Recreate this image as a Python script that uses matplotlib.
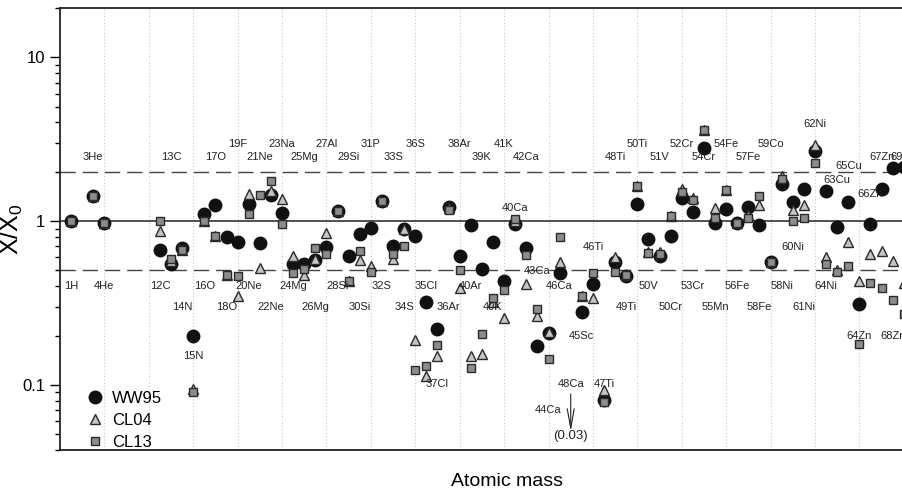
#!/usr/bin/env python3

import numpy as np
import matplotlib
matplotlib.use("Agg")
import matplotlib.pyplot as plt
from matplotlib.ticker import LogLocator, NullFormatter, FixedFormatter


# ------------------------------------------------------------
# DATA  ("" = empty slot on the axis)
# ------------------------------------------------------------

nan = np.nan

ISOTOPES = [
    "1H", "", "3He", "4He", "", "", "", "",
    "12C", "13C", "14N", "15N", "16O", "17O", "18O", "19F",
    "20Ne", "21Ne", "22Ne", "23Na", "24Mg", "25Mg", "26Mg", "27Al",
    "28Si", "29Si", "30Si", "31P", "32S", "33S", "34S", "36S",
    "35Cl", "37Cl", "36Ar", "38Ar", "40Ar", "39K", "40K", "41K",
    "40Ca", "42Ca", "43Ca", "44Ca", "46Ca", "48Ca", "45Sc", "46Ti",
    "47Ti", "48Ti", "49Ti", "50Ti", "50V", "51V", "50Cr", "52Cr",
    "53Cr", "54Cr", "55Mn", "54Fe", "56Fe", "57Fe", "58Fe", "59Co",
    "58Ni", "60Ni", "61Ni", "62Ni", "64Ni", "63Cu", "65Cu", "64Zn",
    "66Zn", "67Zn", "68Zn", "69Ga",
]

WW95 = [
    1.00, nan, 1.42, 0.98, nan, nan, nan, nan,
    0.67, 0.55, 0.68, 0.20, 1.10, 1.26, 0.80, 0.74,
    1.27, 0.73, 1.44, 1.12, 0.55, 0.55, 0.58, 0.69,
    1.16, 0.61, 0.83, 0.91, 1.32, 0.70, 0.89, 0.81,
    0.32, 0.22, 1.22, 0.61, 0.95, 0.51, 0.74, 0.43,
    0.96, 0.68, 0.172, 0.207, 0.48, 0.03, 0.28, 0.41,
    0.081, 0.56, 0.46, 1.27, 0.78, 0.61, 0.81, 1.38,
    1.14, 2.81, 0.98, 1.18, 0.98, 1.22, 0.94, 0.56,
    1.68, 1.30, 1.58, 2.68, 1.53, 0.92, 1.30, 0.31,
    0.96, 1.58, 2.11, 2.13,
]

CL04 = [
    1.00, nan, 1.42, 0.98, nan, nan, nan, nan,
    0.87, 0.57, 0.67, 0.094, 1.00, 0.81, 0.47, 0.35,
    1.46, 0.52, 1.53, 1.36, 0.61, 0.47, 0.59, 0.84,
    1.16, 0.43, 0.58, 0.53, 1.32, 0.59, 0.89, 0.188,
    0.114, 0.149, 1.20, 0.39, 0.151, 0.154, 0.32, 0.255,
    1.00, 0.41, 0.264, 0.21, 0.56, 0.03, 0.35, 0.34,
    0.093, 0.60, 0.47, 1.64, 0.65, 0.65, 1.07, 1.58,
    1.38, 3.62, 1.21, 1.55, 0.98, 1.09, 1.26, 0.56,
    1.89, 1.17, 1.26, 2.90, 0.60, 0.50, 0.75, 0.43,
    0.63, 0.66, 0.57, 0.42,
]

CL13 = [
    1.00, nan, 1.42, 0.98, nan, nan, nan, nan,
    1.00, 0.59, 0.67, 0.091, 1.00, 0.81, 0.47, 0.46,
    1.11, 1.44, 1.75, 0.96, 0.48, 0.51, 0.68, 0.63,
    1.16, 0.43, 0.66, 0.49, 1.32, 0.63, 0.70, 0.123,
    0.13, 0.175, 1.17, 0.50, 0.127, 0.204, 0.34, 0.38,
    1.03, 0.62, 0.29, 0.144, 0.80, 0.03, 0.35, 0.48,
    0.079, 0.49, 0.47, 1.64, 0.64, 0.63, 1.07, 1.51,
    1.35, 3.62, 1.04, 1.55, 0.98, 1.05, 1.42, 0.56,
    1.80, 1.00, 1.05, 2.26, 0.55, 0.49, 0.53, 0.178,
    0.42, 0.39, 0.33, 0.27,
]

# label rows (y value where the isotope name is written)
LABEL_ROWS = {
    2.94: ["19F", "23Na", "27Al", "31P", "36S", "38Ar", "41K", "50Ti",
           "52Cr", "54Fe", "59Co"],
    2.46: ["3He", "13C", "17O", "21Ne", "25Mg", "29Si", "33S", "39K",
           "42Ca", "48Ti", "51V", "54Cr", "57Fe", "67Zn", "69Ga"],
    0.40: ["1H", "4He", "12C", "16O", "20Ne", "24Mg", "28Si", "32S",
           "35Cl", "40Ar", "46Ca", "50V", "53Cr", "56Fe", "58Ni", "64Ni"],
    0.297: ["14N", "18O", "22Ne", "26Mg", "30Si", "34S", "36Ar", "40K",
            "49Ti", "50Cr", "55Mn", "58Fe", "61Ni"],
}
LABEL_SINGLE = {
    "62Ni": 3.94, "65Cu": 2.16, "63Cu": 1.78, "66Zn": 1.47, "40Ca": 1.20,
    "43Ca": 0.495, "46Ti": 0.695, "60Ni": 0.695, "15N": 0.150,
    "45Sc": 0.20, "64Zn": 0.20, "68Zn": 0.20, "37Cl": 0.101,
    "48Ca": 0.101, "47Ti": 0.101, "44Ca": 0.070,
}

OFFSCALE = "48Ca"
OFFSCALE_TEXT = "(0.03)"


# ------------------------------------------------------------
# PLOT
# ------------------------------------------------------------

plt.rcParams["font.family"] = ["Liberation Sans", "DejaVu Sans"]
plt.rcParams["mathtext.default"] = "regular"

fig = plt.figure(figsize=(9.03, 4.95), dpi=100)
ax = fig.add_axes([60 / 903, 45 / 495, 866 / 903, 442 / 495])

x = np.arange(1, len(ISOTOPES) + 1)
pos = {name: xi for name, xi in zip(ISOTOPES, x) if name}

ax.axhline(1.0, color="#333333", lw=1.2, zorder=1)
for level in (2.0, 0.5):
    ax.axhline(level, color="#444444", lw=1.0, dashes=(11, 5), zorder=1)

ax.plot(x, WW95, "o", ms=9, color="#111111", mec="#111111", label="WW95", zorder=3)
ax.plot(x, CL04, "^", ms=7, color="#c4c4c4", mec="#2a2a2a", mew=1.0, label="CL04", zorder=4)
ax.plot(x, CL13, "s", ms=6, color="#8c8c8c", mec="#2a2a2a", mew=1.0, label="CL13", zorder=5)

for yv, names in LABEL_ROWS.items():
    for n in names:
        ax.text(pos[n], yv, n, ha="center", va="center", fontsize=8,
                color="#222222", zorder=6)
for n, yv in LABEL_SINGLE.items():
    ax.text(pos[n], yv, n, ha="center", va="center", fontsize=8,
            color="#222222", zorder=6)

# off-scale 48Ca
ax.annotate("", xy=(pos[OFFSCALE], 0.052), xytext=(pos[OFFSCALE], 0.088),
            arrowprops=dict(arrowstyle="->,head_length=1.4,head_width=0.25",
                            lw=0.8, color="#222222", shrinkA=0, shrinkB=0))
ax.text(pos[OFFSCALE], 0.0484, OFFSCALE_TEXT, ha="center", va="center",
        fontsize=9.5, color="#222222")

ax.set_yscale("log")
ax.set_ylim(0.04, 20)
ax.set_xlim(0, 78)

ax.set_xticks(np.arange(4, 80, 4))
ax.tick_params(axis="x", length=0, labelbottom=False)
ax.grid(axis="x", color="#c8c8c8", lw=0.8, ls=(0, (1, 2)))
ax.set_axisbelow(True)

ax.yaxis.set_minor_locator(LogLocator(base=10, subs=np.arange(2, 10), numticks=10))
ax.yaxis.set_minor_formatter(NullFormatter())
ax.set_yticks([0.1, 1, 10])
ax.yaxis.set_major_formatter(FixedFormatter(["0.1", "1", "10"]))
ax.tick_params(axis="y", which="major", length=7, width=1.0, labelsize=12)
ax.tick_params(axis="y", which="minor", length=3.5, width=1.0)

for side in ("left", "bottom", "top"):
    ax.spines[side].set_linewidth(1.3)
    ax.spines[side].set_color("#222222")
ax.spines["right"].set_visible(False)

ax.set_ylabel("X/X$_0$", fontsize=18)
ax.yaxis.set_label_coords(-0.04, 0.5)
fig.text(507 / 903, 1 - 482 / 495, "Atomic mass", ha="center", va="center",
         fontsize=14)

ax.legend(loc="lower left", frameon=False, fontsize=12, handlelength=1.2,
          handletextpad=0.45, labelspacing=0.4, borderaxespad=0.0,
          bbox_to_anchor=(0.021, -0.014))

fig.savefig("out.png", dpi=100)
